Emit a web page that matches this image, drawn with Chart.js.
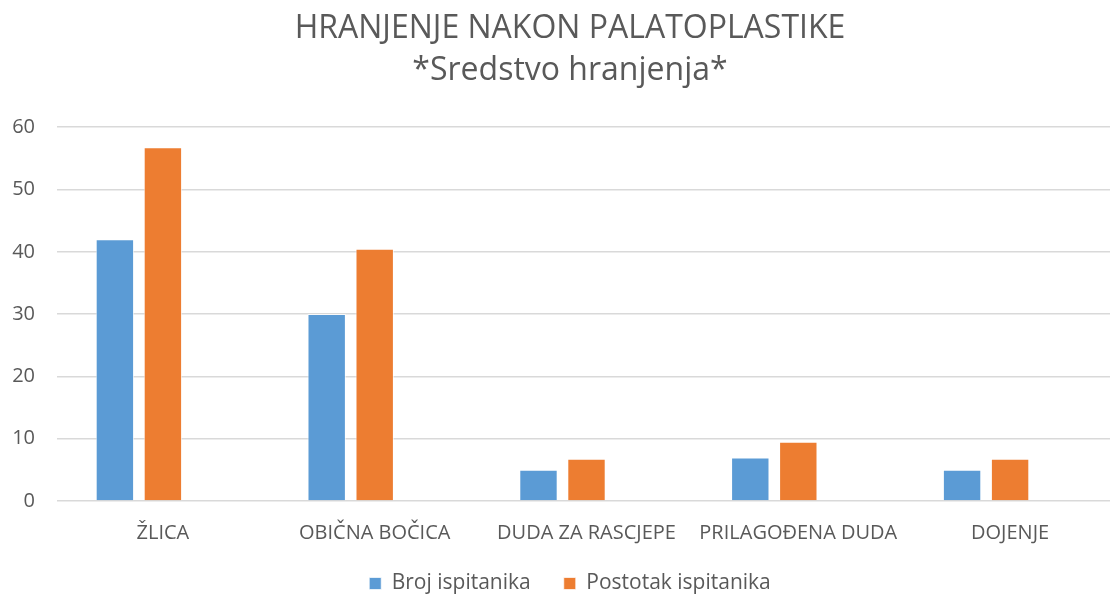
<!DOCTYPE html>
<html>
<head>
<meta charset="utf-8">
<script src="https://cdn.jsdelivr.net/npm/chart.js@4"></script>
<style>
html,body{margin:0;padding:0;background:#fff;overflow:hidden;}
#wrap{width:1140px;height:597px;position:relative;}
</style>
</head>
<body>
<div id="wrap"><canvas id="c"></canvas></div>
<script>
const categories = ["ŽLICA", "OBIČNA BOČICA", "DUDA ZA RASCJEPE", "PRILAGOĐENA DUDA", "DOJENJE"];
const brojIspitanika = [42, 30, 5, 7, 5];
const postotakIspitanika = [56.8, 40.5, 6.8, 9.5, 6.8];
// third (empty) series present in the original chart: it reserves a slot but draws nothing
const praznaSerija = [null, null, null, null, null];
const seriesNames = ["Broj ispitanika", "Postotak ispitanika", ""];
const titleLines = ["HRANJENJE NAKON PALATOPLASTIKE", "*Sredstvo hranjenja*"];
const yTicks = [0, 10, 20, 30, 40, 50, 60];

const FONT = "'Open Sans', 'Liberation Sans', sans-serif";
const GREY = "#595959";

const LEGEND_HEIGHT = 46;
const LEGEND_SHIFT = 11;

const legendTweak = {
  id: "legendTweak",
  beforeLayout(chart) {
    const lg = chart.legend;
    if (lg && !lg._tweaked) {
      const origFit = lg.fit;
      lg.fit = function () { origFit.call(this); this.height = LEGEND_HEIGHT; };
      lg._tweaked = true;
    }
  },
  afterLayout(chart) {
    const lg = chart.legend;
    if (lg) { lg.top -= LEGEND_SHIFT; lg.bottom = chart.height; lg.height = lg.bottom - lg.top; }
  }
};

const barOpts = { borderColor: "rgba(255,255,255,0.7)", borderWidth: 1, categoryPercentage: 0.68, barPercentage: 0.8 };

new Chart(document.getElementById("c"), {
  type: "bar",
  data: {
    labels: categories,
    datasets: [
      Object.assign({ label: seriesNames[0], data: brojIspitanika, backgroundColor: "#5B9BD5" }, barOpts),
      Object.assign({ label: seriesNames[1], data: postotakIspitanika, backgroundColor: "#ED7D31" }, barOpts),
      Object.assign({ label: seriesNames[2], data: praznaSerija, backgroundColor: "#A5A5A5" }, barOpts)
    ]
  },
  plugins: [legendTweak],
  options: {
    responsive: true,
    maintainAspectRatio: false,
    animation: false,
    layout: { padding: { left: 0, right: 0, top: 4, bottom: 0 } },
    plugins: {
      title: {
        display: true,
        text: titleLines,
        color: GREY,
        font: { family: FONT, size: 32, weight: "normal", lineHeight: 1.3 },
        padding: { top: 4, bottom: 36 }
      },
      legend: {
        position: "bottom",
        labels: {
          color: GREY,
          font: { family: FONT, size: 21 },
          boxWidth: 12, boxHeight: 12, padding: 33,
          filter: (item) => item.text !== ""
        }
      },
      tooltip: { enabled: false }
    },
    scales: {
      x: {
        grid: { display: false },
        border: { display: false },
        ticks: { color: GREY, font: { family: FONT, size: 20 }, padding: 12, maxRotation: 0, autoSkip: false },
        afterFit: (axis) => { axis.height = 50; }
      },
      y: {
        min: 0, max: 60,
        afterBuildTicks: (axis) => { axis.ticks = yTicks.map(v => ({ value: v })); },
        grid: { color: "#d9d9d9", lineWidth: 1.5, drawTicks: false },
        border: { display: false },
        ticks: { color: GREY, font: { family: FONT, size: 20 }, padding: 22 },
        afterFit: (axis) => { axis.width = 57; }
      },
      yRightSpace: {
        position: "right",
        grid: { display: false, drawTicks: false },
        border: { display: false },
        ticks: { display: false },
        afterFit: (axis) => { axis.width = 24; }
      }
    }
  }
});
</script>
</body>
</html>
